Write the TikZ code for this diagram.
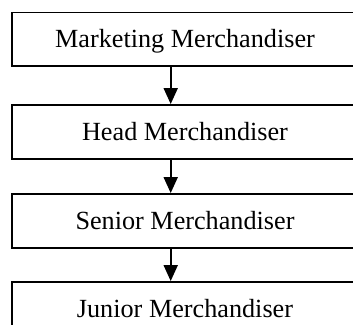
\documentclass[tikz,border=0pt]{standalone}
\usepackage{fontspec}
\setmainfont{Liberation Serif}
\usetikzlibrary{arrows.meta}
\begin{document}
\begin{tikzpicture}[x=1pt,y=-1pt,
  rolebox/.style={draw=black, line width=1.9pt, minimum width=346.6pt, minimum height=53.6pt,
    inner sep=0pt, text height=17pt, text depth=0pt,
    font=\fontsize{26.2}{30}\selectfont},
  flowarrow/.style={line width=1.9pt, -{Triangle[length=16pt,width=14pt]}}]
\useasboundingbox (0,0) rectangle (353,324);
\clip (0,0) rectangle (353,324);
\node[rolebox] (b1) at (185,39.3) {Marketing Merchandiser};
\node[rolebox] (b2) at (185,131.8) {Head Merchandiser};
\node[rolebox] (b3) at (185,220.8) {Senior Merchandiser};
\node[rolebox] (b4) at (185,308.8) {Junior Merchandiser};
\coordinate (ax) at (170.7,0);
\draw[flowarrow] (b1.south -| ax) -- (b2.north -| ax);
\draw[flowarrow] (b2.south -| ax) -- (b3.north -| ax);
\draw[flowarrow] (b3.south -| ax) -- (b4.north -| ax);
\end{tikzpicture}
\end{document}
